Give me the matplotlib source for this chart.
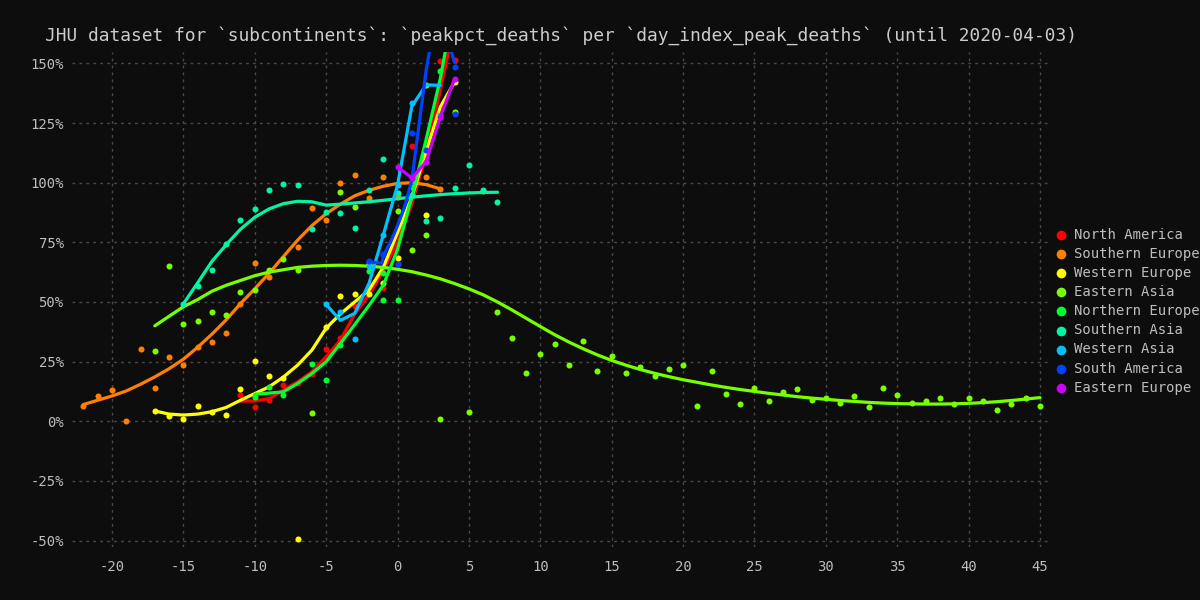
import matplotlib
matplotlib.use("Agg")
import matplotlib.pyplot as plt
from matplotlib.ticker import MultipleLocator, PercentFormatter

# JHU subcontinents: peakpct_deaths per day_index_peak_deaths (until 2020-04-03)
regions = ["North America", "Southern Europe", "Western Europe", "Eastern Asia",
           "Northern Europe", "Southern Asia", "Western Asia", "South America",
           "Eastern Europe"]
colors = ["#ff0000", "#ff8000", "#ffff00", "#77ff00", "#00ff33",
          "#00f5a5", "#00c0ff", "#0040ff", "#cc00ff"]

# scatter points (day index, pct of peak)
na_x = [-11, -10, -9, -8, -7, -6, -5, -4, -3, -2, -1, 0, 1, 2, 3, 4]
na_y = [10.8, 6, 8.8, 15.1, 16.2, 19.7, 30.3, 34.7, 48.3, 57, 56, 66.1, 115.4, 111.2, 151, 151.4]

se_x = [-22, -21, -20, -19, -18, -17, -16, -15, -14, -13, -12, -11, -10, -9, -7, -6, -5, -4,
        -3, -2, -1, 0, 2, 3]
se_y = [6.4, 10.4, 12.9, 0.3, 30.2, 14.1, 27, 23.5, 31.3, 33.3, 37.2, 49.3, 66.5, 60.5, 73.1,
        89.2, 84.5, 99.7, 103.1, 93.6, 102.4, 94, 102.2, 97.4]

we_x = [-17, -16, -15, -14, -13, -12, -11, -10, -9, -8, -7, -5, -4, -3, -2, -1, 0, 2, 4]
we_y = [4.3, 2, 1.1, 6.3, 4, 2.5, 13.6, 25.3, 19, 18, -49.5, 39.3, 52.7, 53.2, 53.5, 58,
        68.6, 86.4, 142.3]

ea_x = [-17, -16, -15, -14, -13, -12, -11, -10, -9, -8, -7, -6, -4, -3, -2, 0, 1, 2, 2, 3, 4, 5,
        6, 7, 8, 9, 10, 11, 12, 13, 14, 15, 16, 17, 18, 19, 20, 21, 22, 23, 24, 25, 26, 27,
        28, 29, 30, 31, 32, 33, 34, 35, 36, 37, 38, 39, 40, 41, 42, 43, 44, 45]
ea_y = [29.3, 65, 40.6, 42, 45.6, 44.4, 54, 55.2, 63.6, 68, 63.6, 3.4, 96, 90, 66, 88, 71.7,
        78, 140.9, 0.8, 129.7, 3.9, 96.5, 45.8, 35, 20.4, 28.1, 32.4, 23.6, 33.7, 21.1, 27.4,
        20.4, 22.9, 19, 21.7, 23.6, 6.4, 21.1, 11.6, 7.1, 14, 8.4, 12.2, 13.4, 8.9, 9.8, 7.7,
        10.4, 5.9, 14.1, 10.9, 7.7, 8.4, 9.6, 7.1, 9.6, 8.4, 4.6, 7.1, 9.6, 6.4]

ne_x = [-10, -9, -8, -6, -5, -4, -2, -1, -1, 0, 1, 3]
ne_y = [10.2, 14.4, 10.9, 23.9, 17.2, 31.9, 63, 62.3, 51, 51, 98.2, 147]

sa_x = [-15, -14, -13, -12, -11, -10, -9, -8, -7, -6, -5, -4, -3, -2, -1, 0, 1, 2, 3, 4, 5, 6, 7]
sa_y = [49.2, 56.5, 63.6, 74.1, 84.4, 89, 96.9, 99.5, 99, 80.6, 87.6, 87.1, 81.2, 96.9, 110,
        95.5, 94.8, 83.9, 85, 97.6, 107.4, 97.1, 91.7]

wa_x = [-5, -4, -3, -2, -1, 0, 1, 3]
wa_y = [49, 45.8, 34.3, 65, 78, 99.2, 133.2, 128.3]

sam_x = [-2, -1, 0, 1, 2, 4, 4]
sam_y = [67, 70.3, 66.1, 121, 113.6, 129, 148.5]

ee_x = [0, 1, 2, 3, 4]
ee_y = [106.6, 102, 108.7, 127.6, 143.6]

# smoothed trend lines
na_lx = [-11, -10, -9, -8, -7, -6, -5, -4, -3, -2, -1, 0, 1, 2, 3, 4]
na_ly = [8.5, 8.5, 9.5, 13, 16.5, 20.7, 27, 34, 45, 53, 63, 75, 91, 112, 139, 167]

se_lx = [-22, -21, -20, -19, -18, -17, -16, -15, -14, -13, -12, -11, -10, -9, -8, -7, -6, -5,
         -4, -3, -2, -1, 0, 1, 2, 3]
se_ly = [7, 8.8, 10.6, 12.7, 15.5, 18.6, 22, 26, 31, 36.5, 42.5, 49.3, 55.5, 62, 69, 75.9, 82,
         87, 91, 94.5, 96.8, 98.5, 99.7, 100, 99.2, 97.4]

we_lx = [-17, -16, -15, -14, -13, -12, -11, -10, -9, -8, -7, -6, -5, -4, -3, -2, -1, 0, 1, 2, 3, 4]
we_ly = [4.3, 3, 2.6, 3, 4, 5.8, 8.8, 11.6, 14.4, 18.5, 23.5, 29.8, 39, 45, 50, 55, 64.5, 79,
         94, 113, 131.8, 142.3]

ea_lx = list(range(-17, 46))
ea_ly = [40, 44, 48, 51, 54.5, 57, 59, 61, 62.5, 63.5, 64.5, 65, 65.3, 65.4, 65.3, 65, 64.5,
         63.7, 62.7, 61.3, 59.7, 57.7, 55.5, 53, 50, 46.7, 43.2, 39.7, 36.3, 33.2, 30.4, 27.8,
         25.5, 23.5, 21.7, 20.1, 18.7, 17.4, 16.3, 15.2, 14.2, 13.3, 12.5, 11.7, 11, 10.3, 9.7,
         9.2, 8.7, 8.3, 7.9, 7.6, 7.4, 7.3, 7.2, 7.2, 7.3, 7.5, 7.8, 8.2, 8.7, 9.3, 9.9]

ne_lx = [-10, -9, -8, -7, -6, -5, -4, -3, -2, -1, 0, 1, 2, 3, 3.5]
ne_ly = [11.3, 11.8, 12.3, 15.8, 20, 24.9, 32.6, 40.5, 48.5, 57, 72, 94, 118, 143.7, 160]

sa_lx = list(range(-15, 8))
sa_ly = [49.2, 58, 67, 74, 80.5, 85.5, 89, 91.2, 92.2, 92, 90.6, 91, 91.5, 92, 92.6, 93.3,
         93.9, 94.5, 95, 95.4, 95.7, 95.9, 96]

wa_lx = [-5, -4, -3, -2, -1, 0, 1, 2, 3]
wa_ly = [48.9, 42.3, 45.2, 57.7, 78, 99, 132, 141, 140.8]

sam_lx = [-2.1, -1.1, -1, -0.5, 0, 0.5, 1, 1.5, 2, 2.3, 3, 3.7, 4]
sam_ly = [66.8, 66.3, 69.5, 75, 82, 90, 101, 124, 147, 157, 170, 156, 150.5]

ee_lx = [0, 1, 2, 3, 4]
ee_ly = [106.6, 102, 108.7, 127.6, 143.6]

points = [(na_x, na_y), (se_x, se_y), (we_x, we_y), (ea_x, ea_y), (ne_x, ne_y),
          (sa_x, sa_y), (wa_x, wa_y), (sam_x, sam_y), (ee_x, ee_y)]
lines = [(na_lx, na_ly), (se_lx, se_ly), (we_lx, we_ly), (ea_lx, ea_ly), (ne_lx, ne_ly),
         (sa_lx, sa_ly), (wa_lx, wa_ly), (sam_lx, sam_ly), (ee_lx, ee_ly)]

bg = "#0d0d0d"
fg = "#bdbdbd"
plt.rcParams["font.family"] = ["DejaVu Sans Mono"]
plt.rcParams["axes.unicode_minus"] = False

fig = plt.figure(figsize=(12, 6), dpi=100, facecolor=bg)
ax = fig.add_axes([0.06, 0.088, 0.815, 0.825], facecolor=bg)

for name, col, (px, py), (lx, ly) in zip(regions, colors, points, lines):
    ax.scatter(px, py, s=19, color=col, label=name, linewidths=0, zorder=3)
    ax.plot(lx, ly, color=col, lw=2.3, solid_capstyle="round", zorder=3)

ax.set_xlim(-22.8, 45.7)
ax.set_ylim(-52.8, 154.7)
ax.xaxis.set_major_locator(MultipleLocator(5))
ax.yaxis.set_major_locator(MultipleLocator(25))
ax.yaxis.set_major_formatter(PercentFormatter(xmax=100, decimals=0))
ax.tick_params(colors=fg, labelsize=10, length=0)
ax.tick_params(axis="x", pad=9)
ax.tick_params(axis="y", pad=6)
ax.grid(True, color="#4a4a4a", linestyle=(0, (2, 3)), linewidth=1)
ax.set_axisbelow(True)
for s in ax.spines.values():
    s.set_visible(False)

ax.set_title("JHU dataset for `subcontinents`: `peakpct_deaths` per "
             "`day_index_peak_deaths` (until 2020-04-03)",
             color="#cccccc", fontsize=12.9, pad=8.5)

leg = ax.legend(loc="center left", bbox_to_anchor=(0.998, 0.477), frameon=False,
                fontsize=10, handletextpad=0.45, labelspacing=0.37, markerscale=1.6,
                handlelength=1.0, borderaxespad=0)
for t in leg.get_texts():
    t.set_color(fg)

fig.savefig("out.png", dpi=100, facecolor=bg)
